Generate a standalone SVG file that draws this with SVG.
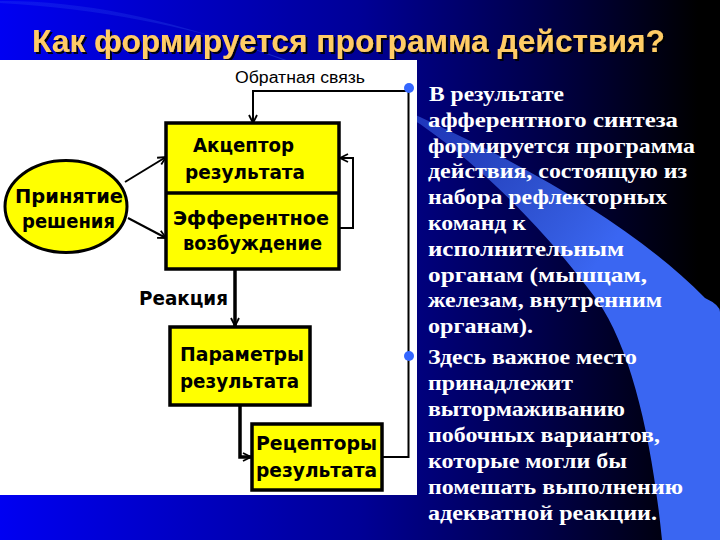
<svg xmlns="http://www.w3.org/2000/svg" width="720" height="540" viewBox="0 0 720 540">
<defs>
<linearGradient id="bg" x1="0" y1="0" x2="720" y2="0" gradientUnits="userSpaceOnUse">
<stop offset="0" stop-color="#0000f2"/>
<stop offset="0.5" stop-color="#000096"/>
<stop offset="0.75" stop-color="#00004a"/>
<stop offset="0.97" stop-color="#000000"/>
</linearGradient>
<linearGradient id="sw" x1="150" y1="0" x2="640" y2="360" gradientUnits="userSpaceOnUse">
<stop offset="0" stop-color="#3a66f2" stop-opacity="0.2"/>
<stop offset="0.55" stop-color="#3a66f2" stop-opacity="0.6"/>
<stop offset="0.85" stop-color="#3a66f2"/>
<stop offset="1" stop-color="#3a66f2"/>
</linearGradient>
<filter id="ds" x="-5%" y="-20%" width="110%" height="150%">
<feDropShadow dx="2" dy="2" stdDeviation="0.6" flood-color="#000000" flood-opacity="0.9"/>
</filter>
<marker id="ah" viewBox="0 0 10 10" refX="9" refY="5" markerWidth="10" markerHeight="10" markerUnits="userSpaceOnUse" orient="auto">
<path d="M1,1 L9,5 L1,9" fill="none" stroke="#000" stroke-width="1.8"/>
</marker>
<style>
.title{font-family:"Liberation Sans",Arial,sans-serif;font-weight:bold;font-size:32px;fill:#ffcc66}
.body{font-family:"Liberation Serif","Times New Roman",serif;font-weight:bold;font-size:22px;fill:#ffffff}
.box{fill:#ffff00;stroke:#000;stroke-width:3.5}
.lbl{font-family:"DejaVu Sans",sans-serif;font-weight:bold;font-size:20px;fill:#000}
.small{font-family:"Liberation Sans",Arial,sans-serif;font-size:16px;fill:#000}
.thin{fill:none;stroke:#000;stroke-width:2}
.thick{fill:none;stroke:#000;stroke-width:3.5}
.dot{fill:#3366ff}
</style>
</defs>
<rect x="0" y="0" width="720" height="540" fill="url(#bg)"/>
<path d="M0,1 C120,0 250,40 420,117 C540,172 640,232 705,298 Q720,305 720,312 L720,540 L662,540 C652,440 632,350 597,300 C560,250 500,180 420,124 C330,70 200,15 0,3 Z" fill="url(#sw)"/>
<text class="title" x="32" y="52" textLength="633" lengthAdjust="spacingAndGlyphs" filter="url(#ds)">Как формируется программа действия?</text>
<rect x="0" y="60" width="417" height="435" fill="#ffffff"/>
<g id="connectors">
<polyline class="thin" points="382,457 408.5,457 408.5,91 253,91 253,123" marker-end="url(#ah)"/>
<polyline class="thin" points="339,228 353,228 353,158 340,158" marker-end="url(#ah)"/>
<line class="thin" x1="125" y1="182" x2="166" y2="157" stroke-width="2.5" marker-end="url(#ah)"/>
<line class="thin" x1="128" y1="218" x2="166" y2="238" stroke-width="2.5" marker-end="url(#ah)"/>
<line class="thick" x1="235" y1="269" x2="235" y2="326" marker-end="url(#ah)"/>
<polyline class="thick" points="240,405 240,457 251,457" marker-end="url(#ah)"/>
<text class="small" x="235" y="83" textLength="130" lengthAdjust="spacingAndGlyphs">Обратная связь</text>
<text class="lbl" x="139" y="305" font-size="18" textLength="89" lengthAdjust="spacingAndGlyphs">Реакция</text>
</g>
<g id="decision">
<ellipse cx="66" cy="206.5" rx="61" ry="46" fill="#ffff00" stroke="#000" stroke-width="3"/>
<text class="lbl" x="15" y="203" textLength="108" lengthAdjust="spacingAndGlyphs">Принятие</text>
<text class="lbl" x="22" y="228" textLength="93" lengthAdjust="spacingAndGlyphs">решения</text>
</g>
<g id="acceptor">
<rect class="box" x="166" y="123" width="173" height="146"/>
<line x1="166" y1="193" x2="339" y2="193" stroke="#000" stroke-width="3.5"/>
<text class="lbl" x="193" y="152" textLength="101" lengthAdjust="spacingAndGlyphs">Акцептор</text>
<text class="lbl" x="185" y="179" textLength="120" lengthAdjust="spacingAndGlyphs">результата</text>
<text class="lbl" x="173" y="225" textLength="156" lengthAdjust="spacingAndGlyphs">Эфферентное</text>
<text class="lbl" x="183" y="250" textLength="139" lengthAdjust="spacingAndGlyphs">возбуждение</text>
</g>
<g id="params">
<rect class="box" x="170" y="327" width="140" height="78"/>
<text class="lbl" x="180" y="361" textLength="124" lengthAdjust="spacingAndGlyphs">Параметры</text>
<text class="lbl" x="180" y="388" textLength="119" lengthAdjust="spacingAndGlyphs">результата</text>
</g>
<g id="receptors">
<rect class="box" x="252" y="424" width="130" height="66"/>
<text class="lbl" x="256" y="450" textLength="121" lengthAdjust="spacingAndGlyphs">Рецепторы</text>
<text class="lbl" x="256" y="477" textLength="121" lengthAdjust="spacingAndGlyphs">результата</text>
</g>
<g id="bullets">
<circle class="dot" cx="409" cy="88" r="5"/>
<circle class="dot" cx="409" cy="356" r="5"/>
<text class="body" x="429" y="101" textLength="135" lengthAdjust="spacingAndGlyphs">В результате</text>
<text class="body" x="428" y="127" textLength="250" lengthAdjust="spacingAndGlyphs">афферентного синтеза</text>
<text class="body" x="428" y="153" textLength="267" lengthAdjust="spacingAndGlyphs">формируется программа</text>
<text class="body" x="428" y="178" textLength="259" lengthAdjust="spacingAndGlyphs">действия, состоящую из</text>
<text class="body" x="428" y="204" textLength="239" lengthAdjust="spacingAndGlyphs">набора рефлекторных</text>
<text class="body" x="428" y="230" textLength="98" lengthAdjust="spacingAndGlyphs">команд к</text>
<text class="body" x="428" y="256" textLength="196" lengthAdjust="spacingAndGlyphs">исполнительным</text>
<text class="body" x="428" y="282" textLength="219" lengthAdjust="spacingAndGlyphs">органам (мышцам,</text>
<text class="body" x="428" y="307" textLength="234" lengthAdjust="spacingAndGlyphs">железам, внутренним</text>
<text class="body" x="428" y="333" textLength="105" lengthAdjust="spacingAndGlyphs">органам).</text>
<text class="body" x="428" y="364" textLength="209" lengthAdjust="spacingAndGlyphs">Здесь важное место</text>
<text class="body" x="428" y="390" textLength="145" lengthAdjust="spacingAndGlyphs">принадлежит</text>
<text class="body" x="428" y="416" textLength="197" lengthAdjust="spacingAndGlyphs">вытормаживанию</text>
<text class="body" x="428" y="442" textLength="232" lengthAdjust="spacingAndGlyphs">побочных вариантов,</text>
<text class="body" x="428" y="468" textLength="199" lengthAdjust="spacingAndGlyphs">которые могли бы</text>
<text class="body" x="428" y="494" textLength="255" lengthAdjust="spacingAndGlyphs">помешать выполнению</text>
<text class="body" x="428" y="520" textLength="229" lengthAdjust="spacingAndGlyphs">адекватной реакции.</text>
</g>
</svg>
